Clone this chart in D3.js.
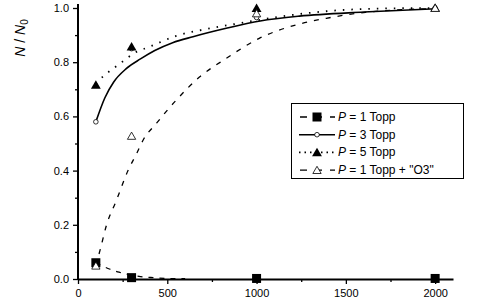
<!DOCTYPE html>
<html>
<head>
<meta charset="utf-8">
<script src="https://cdn.jsdelivr.net/npm/d3@7"></script>
<style>
  body { margin: 0; background: #fff; }
  svg { display: block; }
  text { font-family: "Liberation Sans", Arial, sans-serif; fill: #000; }
</style>
</head>
<body>
<svg id="chart" width="485" height="302"></svg>
<script>

// measured points
var xPoints = [ 100, 300, 1000, 2000 ];
var p1Points = [ 0.06, 0.005, 0.002, 0.002 ];
var p3Points = [ 0.58, 0.85, 0.965, 1.0 ];
var p5Points = [ 0.716, 0.857, 0.999, 1.0 ];
var o3Points = [ 0.049, 0.528, 0.98, 1.0 ];

// fitted curves
var p1FitX = [ 100, 140, 180, 230, 270, 350, 420, 500, 600 ];
var p1FitY = [ 0.06, 0.047, 0.036, 0.025, 0.018, 0.009, 0.005, 0.002, 0.001 ];
var p3FitX = [ 100, 150, 200, 270, 350, 430, 530, 644, 830, 1020, 1240, 1600, 2000 ];
var p3FitY = [ 0.58, 0.668, 0.727, 0.776, 0.812, 0.843, 0.872, 0.894, 0.925, 0.952, 0.97, 0.985, 0.997 ];
var p5FitX = [ 100, 140, 200, 245, 330, 385, 550, 740, 925, 1100, 1425, 1700, 2000 ];
var p5FitY = [ 0.72, 0.747, 0.778, 0.80, 0.839, 0.853, 0.897, 0.925, 0.946, 0.965, 0.99, 0.998, 1.0 ];
var o3FitX = [ 100, 125, 160, 215, 280, 330, 365, 440, 550, 680, 830, 1015, 1240, 1390, 1610, 2000 ];
var o3FitY = [ 0.05, 0.11, 0.2, 0.29, 0.40, 0.465, 0.513, 0.575, 0.66, 0.745, 0.814, 0.888, 0.941, 0.962, 0.984, 0.998 ];

var xTicks = [ 0, 500, 1000, 1500, 2000 ];
var yTicks = [ 0.0, 0.2, 0.4, 0.6, 0.8, 1.0 ];
var legendLabels = [ "1 Topp", "3 Topp", "5 Topp", "1 Topp + \"O3\"" ];

var svg = d3.select( "#chart" );

var x = d3.scaleLinear().domain( [ 0, 2100 ] ).range( [ 78, 453 ] );
var y = d3.scaleLinear().domain( [ 0, 1 ] ).range( [ 279, 8 ] );

// axes
var xAxis = svg.append( "g" )
  .attr( "transform", "translate(0,279)" )
  .call( d3.axisBottom( x ).tickValues( xTicks ).tickSize( 5 ).tickSizeOuter( 0 ).tickFormat( d3.format( "d" ) ) );

svg.append( "g" )
  .attr( "transform", "translate(0,279)" )
  .call( d3.axisBottom( x ).tickValues( [ 250, 750, 1250, 1750 ] ).tickSize( 3 ).tickSizeOuter( 0 ).tickFormat( "" ) )
  .select( ".domain" ).remove();

var yAxis = svg.append( "g" )
  .attr( "transform", "translate(78,0)" )
  .call( d3.axisLeft( y ).tickValues( yTicks ).tickSize( 5 ).tickSizeOuter( 0 ).tickFormat( d3.format( ".1f" ) ) );

svg.append( "g" )
  .attr( "transform", "translate(78,0)" )
  .call( d3.axisLeft( y ).tickValues( [ 0.1, 0.3, 0.5, 0.7, 0.9 ] ).tickSize( 3 ).tickSizeOuter( 0 ).tickFormat( "" ) )
  .select( ".domain" ).remove();

svg.selectAll( ".domain" ).attr( "stroke-width", 2 );
svg.selectAll( ".tick line" ).attr( "stroke-width", 1.3 );

xAxis.selectAll( "text" ).style( "font-size", "11px" ).attr( "dy", "0.9em" );
yAxis.selectAll( "text" ).style( "font-size", "11px" ).attr( "x", -9 );

// extend y axis line slightly above 1.0
yAxis.select( ".domain" ).attr( "d", "M0," + ( y( 0 ) + 1 ) + "V4" );

// y label
var yLabel = svg.append( "text" )
  .attr( "transform", "translate(25,38) rotate(-90)" )
  .attr( "text-anchor", "middle" )
  .style( "font-size", "14px" );
yLabel.append( "tspan" ).style( "font-style", "italic" ).text( "N" );
yLabel.append( "tspan" ).text( " / " );
yLabel.append( "tspan" ).style( "font-style", "italic" ).text( "N" );
yLabel.append( "tspan" ).attr( "dy", 3 ).style( "font-size", "10px" ).text( "0" );

// curves
var line = d3.line()
  .x( d => x( d[ 0 ] ) )
  .y( d => y( d[ 1 ] ) )
  .curve( d3.curveMonotoneX );

var fits = [
  { xs: p1FitX, ys: p1FitY, dash: "5,6", width: 1.3 },
  { xs: p3FitX, ys: p3FitY, dash: null, width: 1.6 },
  { xs: p5FitX, ys: p5FitY, dash: "1.5,7", width: 1.8 },
  { xs: o3FitX, ys: o3FitY, dash: "5,7", width: 1.3 }
];

svg.selectAll( "path.fit" )
  .data( fits )
  .enter().append( "path" )
    .attr( "class", "fit" )
    .attr( "d", d => line( d.xs.map( ( v, i ) => [ v, d.ys[ i ] ] ) ) )
    .attr( "fill", "none" )
    .attr( "stroke", "#000" )
    .attr( "stroke-width", d => d.width )
    .attr( "stroke-dasharray", d => d.dash );

// markers
var triangle = d3.symbol().type( d3.symbolTriangle );

function drawSquare( g, cx, cy ) {
  g.append( "rect" )
    .attr( "x", cx - 4.5 ).attr( "y", cy - 4.5 )
    .attr( "width", 9 ).attr( "height", 9 )
    .attr( "fill", "#000" );
}
function drawCircle( g, cx, cy ) {
  g.append( "circle" )
    .attr( "cx", cx ).attr( "cy", cy ).attr( "r", 2.3 )
    .attr( "fill", "#fff" ).attr( "stroke", "#000" ).attr( "stroke-width", 0.8 );
}
function drawFilledTri( g, cx, cy ) {
  g.append( "path" )
    .attr( "d", triangle.size( 42 )() )
    .attr( "transform", "translate(" + cx + "," + ( cy + 1 ) + ")" )
    .attr( "fill", "#000" );
}
function drawOpenTri( g, cx, cy ) {
  g.append( "path" )
    .attr( "d", triangle.size( 30 )() )
    .attr( "transform", "translate(" + cx + "," + ( cy + 1 ) + ")" )
    .attr( "fill", "#fff" ).attr( "stroke", "#000" ).attr( "stroke-width", 0.8 );
}

var markers = svg.append( "g" );
xPoints.forEach( ( xv, i ) => drawSquare( markers, x( xv ), y( p1Points[ i ] ) ) );
xPoints.forEach( ( xv, i ) => drawCircle( markers, x( xv ), y( p3Points[ i ] ) ) );
xPoints.forEach( ( xv, i ) => drawFilledTri( markers, x( xv ), y( p5Points[ i ] ) ) );
xPoints.forEach( ( xv, i ) => drawOpenTri( markers, x( xv ), y( o3Points[ i ] ) ) );

// legend
var legend = svg.append( "g" );
legend.append( "rect" )
  .attr( "x", 291.5 ).attr( "y", 103.5 )
  .attr( "width", 172 ).attr( "height", 75 )
  .attr( "fill", "#fff" ).attr( "stroke", "#000" ).attr( "stroke-width", 1 );

var drawers = [ drawSquare, drawCircle, drawFilledTri, drawOpenTri ];

legendLabels.forEach( ( lbl, i ) => {
  var ly = 117 + i * 17.7;
  legend.append( "line" )
    .attr( "x1", 299 ).attr( "x2", 335 )
    .attr( "y1", ly ).attr( "y2", ly )
    .attr( "stroke", "#000" )
    .attr( "stroke-width", fits[ i ].width )
    .attr( "stroke-dasharray", i == 1 ? null : ( i == 2 ? "1.5,4" : "7,8" ) )
    .attr( "stroke-dashoffset", i == 2 ? 0 : -1 );
  drawers[ i ]( legend, 317, ly );
  var t = legend.append( "text" )
    .attr( "x", 338 ).attr( "y", ly + 4 )
    .style( "font-size", "12px" );
  t.append( "tspan" ).style( "font-style", "italic" ).text( "P" );
  t.append( "tspan" ).text( " = " + lbl );
} );

</script>
</body>
</html>
